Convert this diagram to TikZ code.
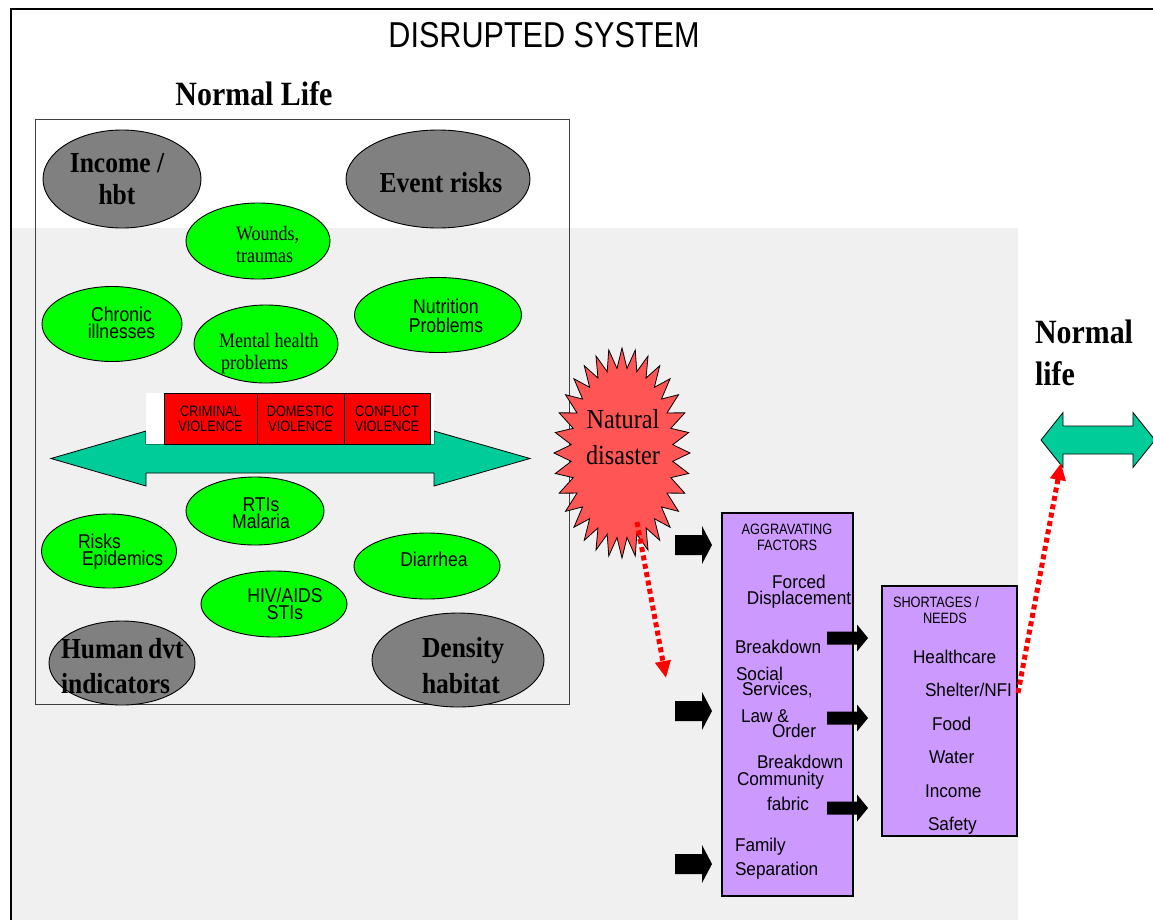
\documentclass[tikz,border=0pt]{standalone}
\usepackage{fontspec}
\setmainfont{Liberation Serif}
\newfontfamily\sansN{Liberation Sans}[FakeStretch=0.85]
\newfontfamily\sansG{Liberation Sans}[FakeStretch=0.88]
\newfontfamily\sansM{Liberation Sans}[FakeStretch=0.93]
\newfontfamily\serifN{Liberation Serif}[FakeStretch=0.88]
\usetikzlibrary{shapes.geometric,arrows.meta}
\definecolor{cBg}{HTML}{F0F0F0}
\definecolor{cGray}{HTML}{808080}
\definecolor{cGreen}{HTML}{00FF00}
\definecolor{cTeal}{HTML}{00CC99}
\definecolor{cRed}{HTML}{FF0000}
\definecolor{cStar}{HTML}{FF5555}
\definecolor{cPurple}{HTML}{CC99FF}
\newcommand\fsz[2]{\fontsize{#1}{#2}\selectfont}
\newcommand\ltext[1]{\vtop{\lineskiplimit=-1000pt\lineskip=0pt\halign{##\hfil\cr#1\crcr}}}
\newcommand\ctext[1]{\vtop{\lineskiplimit=-1000pt\lineskip=0pt\halign{\hfil##\hfil\cr#1\crcr}}}
\newcommand\fatarr[6]{\fill[black] (#1,#2-#4) -- (#6,#2-#4) -- (#6,#2-#5) -- (#3,#2) -- (#6,#2+#5) -- (#6,#2+#4) -- (#1,#2+#4) -- cycle;}
\begin{document}
\begin{tikzpicture}[x=1pt,y=-1pt,
  txt/.style={inner sep=0pt,outer sep=0pt},
  gell/.style={ellipse,draw=black,line width=0.9pt,fill=cGray,inner sep=0pt},
  grell/.style={ellipse,draw=black,line width=0.9pt,fill=cGreen,inner sep=0pt},
  gtxt/.style={txt,font=\serifN\bfseries\fsz{29}{35}},
  stxt/.style={txt,font=\sansG\fsz{20}{17}},
  rtxt/.style={txt,font=\serifN\fsz{20.5}{22}},
  cell/.style={rectangle,draw=black,line width=0.6pt,fill=cRed,inner sep=0pt,font=\sansN\fsz{15}{15}},
  pbox/.style={rectangle,draw=black,line width=1.2pt,fill=cPurple,inner sep=0pt},
  btxt/.style={txt,font=\sansM\fsz{18.5}{16}},
  smtxt/.style={txt,font=\sansN\fsz{15}{16.5}},
  tealarr/.style={draw=black,line width=0.8pt,fill=cTeal},
  redarr/.style={draw=cRed,line width=5pt,dash pattern=on 5pt off 3.5pt,-{Triangle[length=17pt,width=15pt]}}
]
\useasboundingbox (0,0) rectangle (1153,919);
% background texture area
\fill[cBg] (12,228) rectangle (1018,930);
% outer frame
\draw[line width=2.5pt] (1160,9) -- (11,9) -- (11,930);
% title
\node[txt,anchor=base,font=\sansN\fsz{36}{40}] (title) at (544,47) {DISRUPTED SYSTEM};
\node[txt,anchor=base,font=\serifN\bfseries\fsz{34}{40}] (nlhead) at (254,105) {Normal Life};
% normal life box
\draw[draw=black!75,line width=1pt] (35,119) rectangle (569,704);
% gray ellipses
\node[gell,minimum width=158,minimum height=98] (inc) at (122,179) {};
\node[gtxt,anchor=base,font=\serifN\bfseries\fsz{29}{32}] (inct) at (117,172) {\ctext{Income /\cr hbt}};
\node[gell,minimum width=184,minimum height=98] (evt) at (438,179) {};
\node[gtxt,anchor=base] (evtt) at (441,192) {Event risks};
\node[gell,minimum width=146,minimum height=84] (hdi) at (122,663) {};
\node[gtxt,anchor=base west] (hdit) at (61,658) {\ltext{Human\hskip5pt dvt\cr indicators}};
\node[gell,minimum width=172,minimum height=94] (den) at (458,660) {};
\node[gtxt,anchor=base west,font=\serifN\bfseries\fsz{29}{36}] (dent) at (422,657) {\ltext{Density\cr habitat}};
% green ellipses (upper)
\node[grell,minimum width=144,minimum height=76] (wnd) at (258,241) {};
\node[rtxt,anchor=base west] (wndt) at (236,240) {\ltext{Wounds,\cr traumas}};
\node[grell,minimum width=140,minimum height=75] (chr) at (112,324) {};
\node[stxt,anchor=base] (chrt) at (121.5,321) {\ctext{Chronic\cr illnesses}};
\node[grell,minimum width=144,minimum height=78] (mnt) at (266,344) {};
\node[rtxt,anchor=base west] (mntt) at (219,347) {\ltext{Mental health\cr\hskip2pt problems}};
\node[grell,minimum width=167,minimum height=75] (nut) at (438,315) {};
\node[stxt,anchor=base,font=\sansG\fsz{20}{19}] (nutt) at (446,313) {\ctext{Nutrition\cr Problems}};
% violence row with double arrow
\draw[tealarr] (51,458.5) -- (146,431) -- (146,444) -- (434,444) -- (434,431) -- (530,458.5) -- (434,486) -- (434,473) -- (146,473) -- (146,486) -- cycle;
\fill[white] (146,393) rectangle (434,444);
\node[cell,minimum width=93,minimum height=51] (crim) at (210.5,418.5) {\ctext{CRIMINAL\cr VIOLENCE}};
\node[cell,minimum width=87,minimum height=51] (dom) at (300.5,418.5) {\ctext{DOMESTIC\cr VIOLENCE}};
\node[cell,minimum width=86,minimum height=51] (conf) at (387,418.5) {\ctext{CONFLICT\cr VIOLENCE}};
% green ellipses (lower)
\node[grell,minimum width=138,minimum height=68] (rti) at (255,511) {};
\node[stxt,anchor=base] (rtit) at (261,511) {\ctext{RTIs\cr Malaria}};
\node[grell,minimum width=135,minimum height=74] (rsk) at (109,551) {};
\node[stxt,anchor=base west] (rskt) at (78,548) {\ltext{Risks\cr\hskip4pt Epidemics}};
\node[grell,minimum width=146,minimum height=66] (dia) at (427,566) {};
\node[stxt,anchor=base] (diat) at (434,566) {Diarrhea};
\node[grell,minimum width=146,minimum height=66] (hiv) at (274,604) {};
\node[stxt,anchor=base] (hivt) at (285,602) {\ctext{HIV/AIDS\cr STIs}};
% natural disaster starburst
\coordinate (burst) at (622,453);
\draw[fill=cStar,draw=black,line width=0.8pt] (690,453) \foreach \i in {1,...,63}{-- ({622+ifthenelse(mod(\i,2)==0,68,51)*cos(\i*5.625)},{453+ifthenelse(mod(\i,2)==0,105,85)*sin(\i*5.625)})} -- cycle;
\node[txt,anchor=base,font=\serifN\fsz{27.5}{36}] (nd) at (623,428) {\ctext{Natural\cr disaster}};
% aggravating factors box
\node[pbox,minimum width=131,minimum height=383] (agg) at (787.5,704.5) {};
\node[smtxt,anchor=base] (aggt) at (787,534) {\ctext{AGGRAVATING\cr FACTORS}};
\node[btxt,anchor=base] (fd) at (799,588) {\ctext{Forced\cr Displacement}};
\node[btxt,anchor=base west] (bd1) at (735,653) {Breakdown};
\node[btxt,anchor=base west,font=\sansM\fsz{18.5}{15}] (ss) at (736,680) {\ltext{Social\cr\hskip6pt Services,}};
\node[btxt,anchor=base west,font=\sansM\fsz{18.5}{15}] (lo) at (741,722) {\ltext{Law \&\cr\hskip31pt Order}};
\node[btxt,anchor=base west,font=\sansM\fsz{18.5}{17}] (bc) at (737,768) {\ltext{\hskip20pt Breakdown\cr Community}};
\node[btxt,anchor=base west] (fab) at (767,810) {fabric};
\node[btxt,anchor=base west,font=\sansM\fsz{18.5}{24}] (fs) at (735,851) {\ltext{Family\cr Separation}};
% shortages box
\node[pbox,minimum width=135,minimum height=250] (sh) at (949.5,711) {};
\node[smtxt,anchor=base west] (sht) at (893,607) {\ltext{SHORTAGES /\cr\hskip30pt NEEDS}};
\node[btxt,anchor=base west,font=\sansM\fsz{18.5}{33.5}] (needs) at (913,663) {\ltext{Healthcare\cr\hskip12pt Shelter/NFI\cr\hskip19pt Food\cr\hskip16pt Water\cr\hskip12pt Income\cr\hskip15pt Safety}};
% black block arrows
\fatarr{675}{545}{712}{10}{19}{702}
\fatarr{675}{711}{712}{10}{19}{702}
\fatarr{675}{864}{712}{10}{19}{702}
\fatarr{827}{638}{868}{6.5}{13.5}{857}
\fatarr{827}{718}{868}{6.5}{13.5}{857}
\fatarr{827}{808}{868}{6.5}{13.5}{857}
% normal life (right)
\node[txt,anchor=base west,font=\serifN\bfseries\fsz{34}{42}] (nlr) at (1035,343) {\ltext{Normal\cr life}};
\draw[tealarr] (1041,440) -- (1063,412.5) -- (1063,426) -- (1133,426) -- (1133,412.5) -- (1155,440) -- (1133,467.5) -- (1133,454) -- (1063,454) -- (1063,467.5) -- cycle;
% red dotted arrows
\coordinate (r1s) at (637,522);
\coordinate (r1e) at (666,678);
\draw[redarr] (r1s) -- (r1e);
\coordinate (r2s) at (1018,693);
\coordinate (r2e) at (1061,463);
\draw[redarr] (r2s) -- (r2e);
\end{tikzpicture}
\end{document}
